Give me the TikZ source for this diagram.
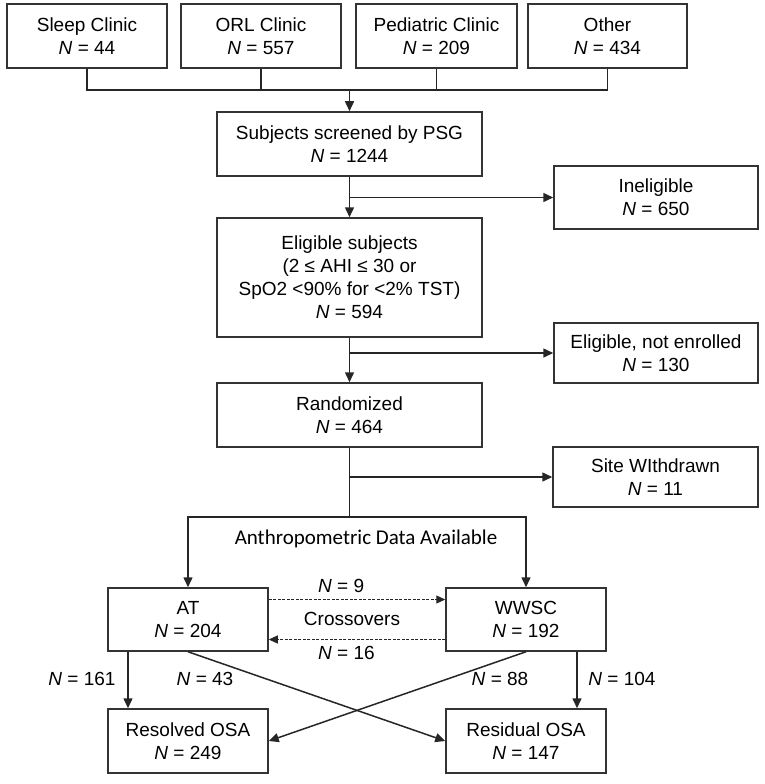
\documentclass[tikz,border=0pt]{standalone}
\usepackage{fontspec}
\setmainfont{Liberation Sans}
\newfontfamily\calibfont{Carlito}
\usetikzlibrary{arrows.meta}

\newcommand{\nn}{\textit{N}}

\tikzset{
	box/.style={draw=black!80, line width=1.5bp, align=center, inner sep=0pt, minimum height=64bp, font=\fontsize{19bp}{23bp}\selectfont},
	ln/.style={draw=black!85, line width=1.5bp},
	arr/.style={ln, -{Triangle[length=10bp,width=9bp]}},
	dasharr/.style={draw=black!85, line width=1.1bp, dash pattern=on 3bp off 1.5bp, -{Triangle[length=9bp,width=8bp]}},
	lbl/.style={font=\fontsize{19bp}{23bp}\selectfont, inner sep=1bp}
}

\begin{document}
\begin{tikzpicture}[x=1bp, y=-1bp]
		\useasboundingbox (0,0) rectangle (765,784);

		\node[box, minimum width=160bp] (sleep) at (87,36) {Sleep Clinic\\\nn{} = 44};
		\node[box, minimum width=160bp] (orl) at (261,36) {ORL Clinic\\\nn{} = 557};
		\node[box, minimum width=161bp] (pedi) at (436.5,36) {Pediatric Clinic\\\nn{} = 209};
		\node[box, minimum width=159bp] (other) at (607.5,36) {Other\\\nn{} = 434};

		\node[box, minimum width=265bp] (psg) at (349.5,144) {Subjects screened by PSG\\\nn{} = 1244};
		\node[box, minimum width=204bp, minimum height=63bp] (inel) at (656,197.5) {Ineligible\\\nn{} = 650};
		\node[box, minimum width=265bp, minimum height=119bp] (elig) at (349.5,277.5) {Eligible subjects\\(2 ≤ AHI ≤ 30 or\\SpO2 <90\% for <2\% TST)\\\nn{} = 594};
		\node[box, minimum width=204bp, minimum height=60bp] (notenr) at (656,353) {Eligible, not enrolled\\\nn{} = 130};
		\node[box, minimum width=265bp] (rand) at (349.5,415) {Randomized\\\nn{} = 464};
		\node[box, minimum width=205bp, minimum height=60bp] (withdr) at (655.5,477) {Site WIthdrawn\\\nn{} = 11};

		\node[font=\calibfont\fontsize{21bp}{25bp}\selectfont, inner sep=0pt] (anthro) at (366,539) {Anthropometric Data Available};

		\node[box, minimum width=160bp, minimum height=63bp] (at) at (188,619.5) {AT\\\nn{} = 204};
		\node[box, minimum width=160bp, minimum height=63bp] (wwsc) at (526,619.5) {WWSC\\\nn{} = 192};
		\node[box, minimum width=160bp] (resolved) at (188,741) {Resolved OSA\\\nn{} = 249};
		\node[box, minimum width=160bp] (residual) at (526,741) {Residual OSA\\\nn{} = 147};

		\coordinate (join) at (349.5,90);
		\coordinate (split) at (349.5,517);

		\draw[ln] (sleep.south) |- (join) -| (other.south);
		\draw[ln] (orl.south) -- (orl.south |- join);
		\draw[ln] (pedi.south) -- (pedi.south |- join);
		\draw[arr] (join) -- (psg.north);

		\draw[arr] (psg.south) -- (elig.north);
		\draw[arr] (psg.south |- inel.west) -- (inel.west);
		\draw[arr] (elig.south) -- (rand.north);
		\draw[arr] (elig.south |- notenr.west) -- (notenr.west);

		\draw[ln] (rand.south) -- (split);
		\draw[arr] (rand.south |- withdr.west) -- (withdr.west);
		\draw[arr] (split) -| (at.north);
		\draw[arr] (split) -| (wwsc.north);

		\draw[dasharr] ([yshift=20bp]at.east) -- node[lbl, pos=.41, above=5bp] (nine) {\nn{} = 9} ([yshift=20bp]wwsc.west);
		\draw[dasharr] ([yshift=-20bp]wwsc.west) -- node[lbl, pos=.56, below=5bp] (sixteen) {\nn{} = 16} ([yshift=-20bp]at.east);
		\node[lbl] (cross) at (352,619) {Crossovers};

		\draw[arr] ([xshift=-60bp]at.south) -- ([xshift=-60bp]resolved.north);
		\draw[arr] ([xshift=51bp]wwsc.south) -- ([xshift=51bp]residual.north);
		\draw[arr] (at.south) -- (residual.west);
		\draw[arr] (wwsc.south) -- (resolved.east);

		\node[lbl] (n161) at (82,679) {\nn{} = 161};
		\node[lbl] (n43) at (205,679) {\nn{} = 43};
		\node[lbl] (n88) at (500,679) {\nn{} = 88};
		\node[lbl] (n104) at (622,679) {\nn{} = 104};
	\end{tikzpicture}
\end{document}
